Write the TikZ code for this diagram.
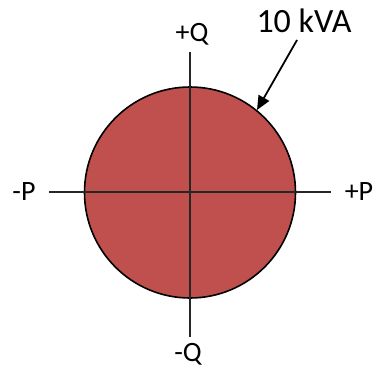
\documentclass[tikz,border=0pt]{standalone}
\usepackage{fontspec}
\setmainfont{Carlito}
\usetikzlibrary{arrows.meta}
\definecolor{fillred}{HTML}{C0504D}
\tikzset{
  axislabel/.style={font=\fontsize{28}{32}\selectfont, inner sep=0pt},
  axisline/.style={line width=1.5pt, draw=black!85},
}
\begin{document}
\begin{tikzpicture}[x=1pt,y=-1pt]
\useasboundingbox (0,0) rectangle (373,370);
\fill[fillred] (190,192.5) circle (105.5);
\draw[line width=1.6pt] (190,192.5) circle (105.5);
\coordinate (L) at (49,192);
\coordinate (R) at (331,192);
\coordinate (T) at (190,52);
\coordinate (B) at (190,337);
\draw[axisline] (L) -- (R);
\draw[axisline] (T) -- (B);
\node[axislabel] (pq) at (192,34) {+Q};
\node[axislabel] (mq) at (188,354) {-Q};
\node[axislabel] (mp) at (24,192) {-P};
\node[axislabel] (pp) at (359,192) {+P};
\node[font=\fontsize{34}{40}\selectfont, inner sep=0pt] (kva) at (304,21) {10 kVA};
\coordinate (tip) at (257,110);
\draw[line width=1.8pt, -{Triangle[length=14pt,width=12pt]}] (297,40) -- (tip);
\end{tikzpicture}
\end{document}
